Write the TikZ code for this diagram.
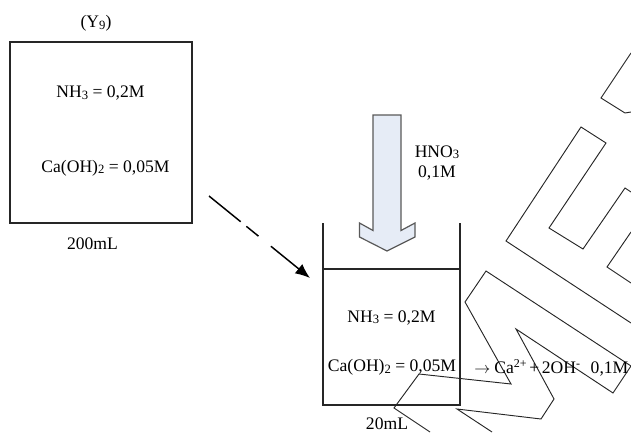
\documentclass[tikz,border=0pt]{standalone}
\usepackage{fontspec}
\setmainfont{Liberation Serif}
\usetikzlibrary{arrows.meta}
\definecolor{feedfill}{HTML}{E6ECF6}
\newcommand{\dn}[1]{\raisebox{-0.2ex}{\fontsize{9.5}{10}\selectfont #1}}
\newcommand{\up}[1]{\raisebox{0.75ex}{\fontsize{9}{10}\selectfont #1}}
\tikzset{
  lbl/.style={inner sep=0pt,font=\fontsize{13.2}{15.5}\selectfont,align=center},
  thick box/.style={draw=black!85,line width=1.4pt},
  mark line/.style={draw=black!85,line width=0.7pt,line join=miter},
  feed/.style={draw=black!65,fill=feedfill,line width=0.9pt,line join=miter},
  flow/.style={draw=black,line width=1.1pt,-{Latex[length=11pt,width=9pt]}}
}
\begin{document}
\begin{tikzpicture}[x=0.75pt,y=-0.75pt]
\useasboundingbox (0,0) rectangle (631,432);
% watermark outlines
\draw[mark line] (631,53) -- (601,98) -- (625,113) -- (631,112);
\draw[mark line] (631,323) -- (506,241) -- (581,127) -- (606,143) -- (549,228) -- (583,249) -- (625,188) -- (631,192);
\draw[mark line] (631,283) -- (607,267) -- (631,232);
\draw[mark line] (430,432) -- (394,408) -- (419,374) -- (511,384) -- (465,302) -- (486,271) -- (631,366) -- (613,393) -- (516,329) -- (554,399) -- (541,419) -- (457,409) -- (492,432);
% reagent
\node[thick box,minimum width=136.5pt,minimum height=136pt,inner sep=0pt,outer sep=0pt,anchor=north west] (src) at (10,42) {};
\node[lbl] (srcname) at (96,23.5) {(Y\dn{9})};
\node[lbl] (srca) at (100.5,93) {NH\dn{3} = 0,2M};
\node[lbl] (srcb) at (105.5,168) {Ca(OH)\dn{2} = 0,05M};
\node[lbl] (srcv) at (92.5,244) {200mL};
% feed arrow
\draw[feed] (373,115) -- (401,115) -- (401,230.5) -- (415,223) -- (415,237) -- (387,251) -- (359.5,237) -- (359.5,223) -- (373,230.5) -- cycle;
\node[lbl] (acid) at (437,163) {HNO\dn{3}\\0,1M};
% beaker
\coordinate (bl) at (323,223);
\coordinate (br) at (460,223);
\draw[thick box] (bl) -- (323,405) -- (460,405) -- (br);
\draw[thick box] (323,269) -- (460,269);
\node[lbl] (ba) at (391.5,317.5) {NH\dn{3} = 0,2M};
\node[lbl] (bb) at (392,367.5) {Ca(OH)\dn{2} = 0,05M};
\node[lbl,anchor=west] (bc) at (474,367.5) {$\rightarrow$\hspace{3pt}Ca\up{2+}\hspace{2pt}+\hspace{2pt}2OH\up{-}\hspace{8pt}0,1M};
\node[lbl] (bv) at (387,424) {20mL};
% transfer arrow
\coordinate (from) at (209,196);
\coordinate (to) at (310,278);
\draw[flow,dash pattern=on 30.6pt off 5.5pt on 11.7pt off 12pt on 200pt] (from) -- (to);
\end{tikzpicture}
\end{document}
